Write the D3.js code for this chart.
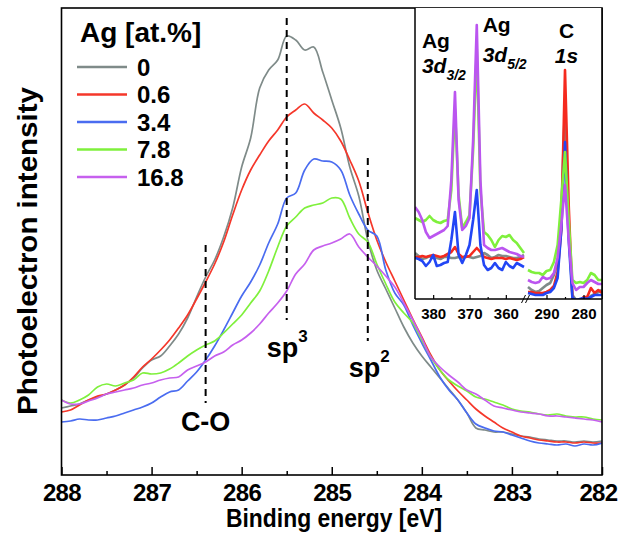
<!DOCTYPE html>
<html><head><meta charset="utf-8">
<script src="https://cdn.jsdelivr.net/npm/d3@7"></script>
<style>body{margin:0;background:#fff}svg{display:block;font-family:"Liberation Sans",Arial,sans-serif}</style>
</head><body><svg id="c" width="619" height="535"></svg>
<script>
// ---------- data ----------
const seriesNames = ["0", "0.6", "3.4", "7.8", "16.8"];
const seriesColors = ["#7f8b89", "#f5372a", "#4a6cf0", "#7ff03c", "#c660ee"];
const insetColors = ["#7f8b89", "#f52a1e", "#2246f5", "#7ff03c", "#bb55f0"];
const energy = [288.0,287.9,287.8,287.7,287.6,287.5,287.4,287.3,287.2,287.1,287.0,286.9,286.8,286.7,286.6,286.5,286.4,286.3,286.2,286.1,286.0,285.9,285.8,285.7,285.6,285.5,285.4,285.3,285.2,285.1,285.0,284.9,284.8,284.7,284.6,284.5,284.4,284.3,284.2,284.1,284.0,283.9,283.8,283.7,283.6,283.5,283.4,283.3,283.2,283.1,283.0,282.9,282.8,282.7,282.6,282.5,282.4,282.3,282.2,282.1,282.0];
const ag0   = [67,69,71,75,78,81,85,90,97,107,115,119,129,141,157,178,198,215,238,267,308,337,387,405,415,439,435,425,428,403,375,347,308,279,235,205,186,167,148,132,119,108,97,86,75,62,47,45,43,43,41,39,38,36,35,34,34,33,34,33,34];
const ag06  = [63,65,70,75,79,81,85,90,98,108,116,125,135,147,160,176,193,211,233,260,285,305,320,334,345,358,365,371,362,355,347,334,315,294,263,235,213,194,175,156,138,120,105,94,84,75,66,59,53,47,43,39,37,35,34,33,33,32,33,32,32];
const ag34  = [53,54,56,55,55,57,59,62,65,68,72,78,83,85,94,103,115,129,145,162,179,193,210,232,251,277,282,305,316,314,313,305,280,261,245,239,205,182,170,150,132,115,98,85,75,62,51,47,44,43,40,37,34,32,31,30,31,29,31,30,32];
const ag78  = [75,72,75,80,88,91,89,92,95,102,101,102,106,112,119,125,130,134,142,151,160,172,184,204,228,249,258,267,270,272,277,276,257,241,233,211,191,173,162,152,135,118,105,95,89,84,78,76,73,70,66,64,63,61,60,61,59,58,58,56,55];
const ag168 = [75,71,71,74,77,81,83,85,87,90,92,95,97,98,105,109,113,119,123,130,135,142,151,162,172,184,201,211,225,229,232,236,241,228,218,209,199,188,172,155,137,118,108,100,93,85,81,75,69,67,65,63,62,61,59,59,58,57,56,55,53];
const mainSeries = [ag0, ag06, ag34, ag78, ag168];

const xTicksMajor = [288, 287, 286, 285, 284, 283, 282];
const xTicksMinor = [287.5, 286.5, 285.5, 284.5, 283.5, 282.5];

const markerEnergy = [286.4, 285.5, 284.6];
const markerTop = [230, 457, 317];
const markerBottom = [72, 155, 134];
const markerLabel = ["C-O", "sp", "sp"];
const markerSup = ["", "3", "2"];

// inset: Ag 3d region and C 1s region
const insetEnergyA = [385,384,383,382,381,380,379,378,377,376,375,374,373,372,371,370,369,368,367,366,365,364,363,362,361,360,359,358,357,356,355];
const insetA0   = [46,43,40,41,43,41,41,40,42,42,41,41,42,41,43,42,41,42,43,46,44,41,42,44,43,43,42,41,41,42,44];
const insetA06  = [42,42,43,42,43,44,43,42,43,45,47,52,45,42,42,43,47,51,47,42,41,40,41,41,41,40,41,40,39,40,42];
const insetA34  = [41,40,38,33,37,44,33,34,36,37,59,87,44,36,44,54,79,109,54,34,29,31,36,31,29,37,33,31,36,34,32];
const insetA78  = [81,79,77,79,83,79,77,76,78,79,109,190,104,71,77,84,149,250,109,67,64,59,52,59,63,62,64,59,56,51,46];
const insetA168 = [92,87,79,67,61,63,65,67,69,73,119,207,99,69,73,81,159,274,119,54,51,49,49,50,51,49,47,46,45,43,42];
const insetEnergyB = [295,294,293,292,291,290,289,288,287,286,285,284,283,282,281,280,279,278,277,276,275];
const insetB0   = [12,9,7,8,11,14,16,24,37,89,194,69,4,-1,-1,1,0,3,5,7,9];
const insetB06  = [7,7,6,6,6,7,9,13,27,69,229,94,1,-3,-3,2,2,11,6,9,6];
const insetB34  = [6,5,4,4,4,6,7,11,21,69,157,59,1,-1,0,1,0,2,4,4,4];
const insetB78  = [29,27,26,26,24,28,29,37,54,99,147,79,19,16,17,16,19,26,24,19,19];
const insetB168 = [19,17,16,17,22,20,21,26,41,74,114,59,16,9,12,12,16,19,17,15,15];
const insetSeriesA = [insetA0, insetA06, insetA34, insetA78, insetA168];
const insetSeriesB = [insetB0, insetB06, insetB34, insetB78, insetB168];
const insetTicksA = [380, 370, 360];
const insetTicksB = [290, 280];
const insetMinorA = [375, 365];
const insetMinorB = [285];

// ---------- drawing ----------
const svg = d3.select("#c");
const L = 61.5, R = 602, T = 8, B = 475;
const x = d3.scaleLinear().domain([288, 282]).range([L, R]);
const y = d3.scaleLinear().domain([0, 467]).range([B, T]);

svg.append("defs").append("clipPath").attr("id", "mainClip")
  .append("rect").attr("x", L).attr("y", T).attr("width", R - L).attr("height", B - T);

const line = d3.line().x((d, i) => x(energy[i])).y(d => y(d)).curve(d3.curveCatmullRom.alpha(0.5));
const gLines = svg.append("g").attr("clip-path", "url(#mainClip)");
mainSeries.forEach((s, k) => {
  gLines.append("path").datum(s).attr("d", line)
    .attr("fill", "none").attr("stroke", seriesColors[k]).attr("stroke-width", 1.7)
    .attr("stroke-linejoin", "round");
});

// marker dashed lines
markerEnergy.forEach((e, i) => {
  svg.append("line").attr("x1", x(e)).attr("x2", x(e))
    .attr("y1", y(markerTop[i])).attr("y2", y(markerBottom[i]))
    .attr("stroke", "#000").attr("stroke-width", 2).attr("stroke-dasharray", "7,5");
});
// marker labels
const lab = [
  {x: x(286.4), y: 431, anchor: "middle"},
  {x: x(285.5) - 20, y: 357, anchor: "start"},
  {x: x(284.6) - 19, y: 377, anchor: "start"}
];
markerLabel.forEach((t, i) => {
  const tx = svg.append("text").attr("x", lab[i].x).attr("y", lab[i].y)
    .attr("text-anchor", lab[i].anchor).attr("font-size", 27).attr("font-weight", "bold").text(t);
  if (markerSup[i]) tx.append("tspan").attr("dy", -15).attr("font-size", 17).text(markerSup[i]);
});

// frame
svg.append("rect").attr("x", L).attr("y", T).attr("width", R - L).attr("height", B - T)
  .attr("fill", "none").attr("stroke", "#000").attr("stroke-width", 1.6);

// x axis
const ax = svg.append("g").attr("transform", `translate(0,${B})`)
  .call(d3.axisBottom(x).tickValues(xTicksMajor).tickSize(-8).tickPadding(9).tickFormat(d3.format("d")));
ax.select(".domain").remove();
ax.selectAll(".tick line").attr("stroke", "#000").attr("stroke-width", 1.5);
ax.selectAll(".tick text").attr("font-size", 24).attr("font-weight", "bold")
  .attr("font-family", "Liberation Sans, Arial, sans-serif").attr("fill", "#000")
  .attr("letter-spacing", "-0.6px")
  .attr("dx", d => d === 282 ? -4 : 0);
const axm = svg.append("g").attr("transform", `translate(0,${B})`)
  .call(d3.axisBottom(x).tickValues(xTicksMinor).tickSize(-4).tickFormat(""));
axm.select(".domain").remove();
axm.selectAll(".tick line").attr("stroke", "#000").attr("stroke-width", 1.5);

svg.append("text").attr("x", 334).attr("y", 527).attr("text-anchor", "middle")
  .attr("font-size", 25).attr("font-weight", "bold")
  .attr("textLength", 216).attr("lengthAdjust", "spacingAndGlyphs").text("Binding energy [eV]");
svg.append("text").attr("transform", "translate(37,251) rotate(-90)").attr("text-anchor", "middle")
  .attr("font-size", 27).attr("font-weight", "bold")
  .attr("textLength", 328).attr("lengthAdjust", "spacingAndGlyphs").text("Photoelectron intensity");

// legend
svg.append("text").attr("x", 80).attr("y", 42).attr("font-size", 28).attr("font-weight", "bold").text("Ag [at.%]");
seriesNames.forEach((n, k) => {
  const ly = 67 + k * 27.5;
  svg.append("line").attr("x1", 77).attr("x2", 127).attr("y1", ly).attr("y2", ly)
    .attr("stroke", seriesColors[k]).attr("stroke-width", 2.6);
  svg.append("text").attr("x", 137).attr("y", ly + 8.5).attr("font-size", 24).attr("font-weight", "bold").text(n);
});

// ---------- inset ----------
const IL = 415, IR = 602, IT = 8, IB = 299;
const xA = d3.scaleLinear().domain([385, 355]).range([IL, 524]);
const xB = d3.scaleLinear().domain([295, 275]).range([528, IR]);
const yI = d3.scaleLinear().domain([0, 291]).range([IB, IT]);
svg.append("rect").attr("x", IL).attr("y", IT).attr("width", IR - IL).attr("height", IB - IT)
  .attr("fill", "#fff");
svg.select("defs").append("clipPath").attr("id", "insetClip")
  .append("rect").attr("x", IL).attr("y", IT).attr("width", IR - IL).attr("height", IB - IT);
const gI = svg.append("g").attr("clip-path", "url(#insetClip)");
const lineA = d3.line().x((d, i) => xA(insetEnergyA[i])).y(d => yI(d));
const lineB = d3.line().x((d, i) => xB(insetEnergyB[i])).y(d => yI(d));
[0, 1, 2, 3, 4].forEach(k => {
  gI.append("path").datum(insetSeriesA[k]).attr("d", lineA).attr("fill", "none")
    .attr("stroke", insetColors[k]).attr("stroke-width", 2.6).attr("stroke-linejoin", "round");
});
[0, 1, 2, 3, 4].forEach(k => {
  gI.append("path").datum(insetSeriesB[k]).attr("d", lineB).attr("fill", "none")
    .attr("stroke", insetColors[k]).attr("stroke-width", 2.6).attr("stroke-linejoin", "round");
});
// inset frame (left and bottom)
svg.append("line").attr("x1", IL).attr("x2", IL).attr("y1", IT).attr("y2", IB).attr("stroke", "#000").attr("stroke-width", 1.5);
svg.append("line").attr("x1", IL).attr("x2", IR).attr("y1", IB).attr("y2", IB).attr("stroke", "#000").attr("stroke-width", 1.5);
svg.append("line").attr("x1", R).attr("x2", R).attr("y1", T).attr("y2", IB).attr("stroke", "#000").attr("stroke-width", 1.6);
// inset ticks
function insetAxis(scale, major, minor) {
  const g = svg.append("g").attr("transform", `translate(0,${IB})`)
    .call(d3.axisBottom(scale).tickValues(major).tickSize(-4).tickPadding(6).tickFormat(d3.format("d")));
  g.select(".domain").remove();
  g.selectAll(".tick line").attr("stroke", "#000").attr("stroke-width", 1.2);
  g.selectAll(".tick text").attr("font-size", 15).attr("font-weight", "bold")
    .attr("font-family", "Liberation Sans, Arial, sans-serif").attr("fill", "#000").attr("dy", "0.9em");
  const gm = svg.append("g").attr("transform", `translate(0,${IB})`)
    .call(d3.axisBottom(scale).tickValues(minor).tickSize(-2).tickFormat(""));
  gm.select(".domain").remove();
  gm.selectAll(".tick line").attr("stroke", "#000").attr("stroke-width", 1.2);
}
insetAxis(xA, insetTicksA, insetMinorA);
insetAxis(xB, insetTicksB, insetMinorB);
// axis break
[-2.5, 1.5].forEach(o => {
  svg.append("line").attr("x1", 526 + o - 2).attr("x2", 526 + o + 2).attr("y1", IB + 4).attr("y2", IB - 4)
    .attr("stroke", "#000").attr("stroke-width", 1);
});
// inset labels
const fI = 21;
svg.append("text").attr("x", xA(374.3) - 32).attr("y", 48).attr("font-size", fI).attr("font-weight", "bold").text("Ag");
const t1 = svg.append("text").attr("x", xA(374.3) - 32).attr("y", 73).attr("font-size", fI)
  .attr("font-weight", "bold").attr("font-style", "italic").text("3d");
t1.append("tspan").attr("dy", 7).attr("font-size", 14).text("3/2");
svg.append("text").attr("x", xA(368.3) + 7).attr("y", 32).attr("font-size", fI).attr("font-weight", "bold").text("Ag");
const t2 = svg.append("text").attr("x", xA(368.3) + 7).attr("y", 62).attr("font-size", fI)
  .attr("font-weight", "bold").attr("font-style", "italic").text("3d");
t2.append("tspan").attr("dy", 7).attr("font-size", 14).text("5/2");
svg.append("text").attr("x", xB(284.6)).attr("y", 38).attr("text-anchor", "middle").attr("font-size", fI).attr("font-weight", "bold").text("C");
svg.append("text").attr("x", xB(284.6)).attr("y", 63).attr("text-anchor", "middle").attr("font-size", fI)
  .attr("font-weight", "bold").attr("font-style", "italic").text("1s");
</script></body></html>
